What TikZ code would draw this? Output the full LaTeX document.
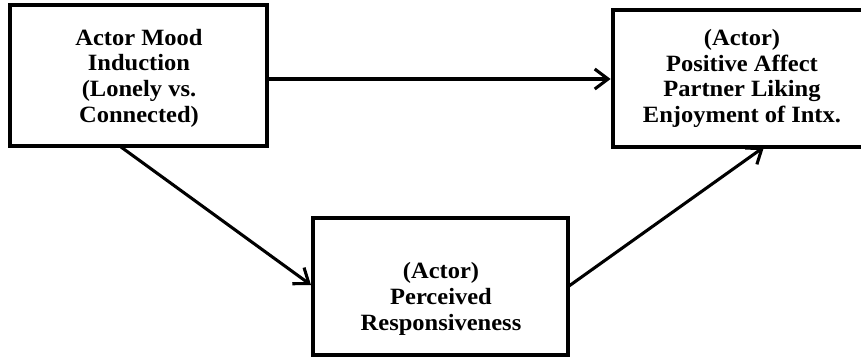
\documentclass[tikz,border=0pt]{standalone}
\usepackage{fontspec}
\setmainfont{Liberation Serif}
\usetikzlibrary{arrows.meta}
\begin{document}
\begin{tikzpicture}[x=0.75pt,y=-0.75pt,
  boxstyle/.style={draw=black,line width=3.6pt,fill=white,inner sep=0pt},
  txt/.style={align=center,font=\fontsize{17.5}{19.3}\selectfont\bfseries,inner sep=0pt,xscale=1.05},
  conn/.style={line width=2.3pt,-{Straight Barb[length=10pt,width=15pt,line width=2.3pt]}}]
\useasboundingbox (0,0) rectangle (861,358);
\node[boxstyle,minimum width=257*0.75pt,minimum height=141*0.75pt] (mood) at (138.5,75.5) {};
\node[txt] (moodt) at (139,78) {Actor Mood\\Induction\\(Lonely vs.\\Connected)};
\node[boxstyle,minimum width=258*0.75pt,minimum height=137*0.75pt] (out) at (742,78.5) {};
\node[txt] (outt) at (742,78.5) {(Actor)\\Positive Affect\\Partner Liking\\Enjoyment of Intx.};
\node[boxstyle,minimum width=255*0.75pt,minimum height=137*0.75pt] (resp) at (440.5,286.5) {};
\node[txt] (respt) at (441,299) {(Actor)\\Perceived\\Responsiveness};
\coordinate (a1) at (mood.east |- 0,79);
\coordinate (b1) at (out.west |- 0,79);
\draw[conn] (a1) -- (b1);
\coordinate (a2) at (121,147);
\coordinate (b2) at (311,285);
\draw[conn] (a2) -- (b2);
\coordinate (a3) at (569,286);
\coordinate (b3) at (764,147);
\draw[conn] (a3) -- (b3);
\end{tikzpicture}
\end{document}
